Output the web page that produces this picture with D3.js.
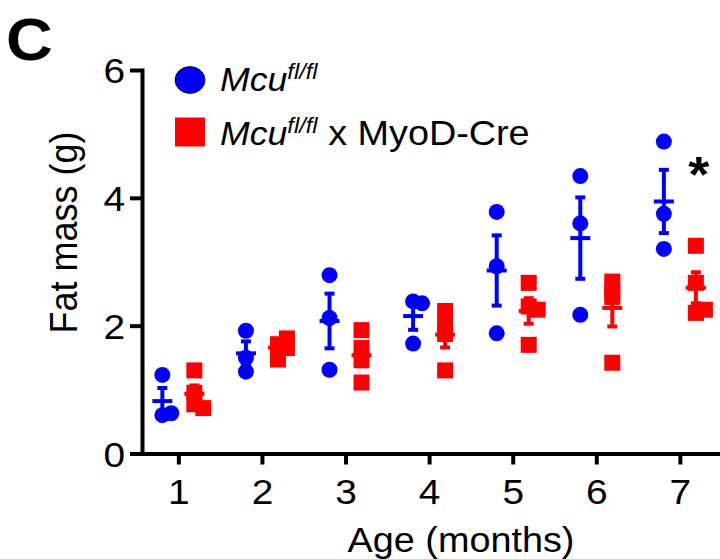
<!DOCTYPE html>
<html>
<head>
<meta charset="utf-8">
<script src="https://cdn.jsdelivr.net/npm/d3@7"></script>
<style>
  body { margin: 0; background: #fff; }
  text { font-family: Arial, "Liberation Sans", sans-serif; fill: #000; }
</style>
</head>
<body>
<svg id="chart" width="720" height="559"></svg>
<script>
// fat mass (g) per mouse, one list per month
const months = [1, 2, 3, 4, 5, 6, 7];
const control = [
  [1.23, 0.60, 0.63],
  [1.92, 1.28, 1.50],
  [2.79, 2.12, 1.31],
  [2.38, 2.35, 1.72],
  [3.78, 2.93, 1.88],
  [4.34, 3.60, 2.17],
  [4.88, 3.75, 3.20],
];
const knockout = [
  [1.30, 0.95, 0.77, 0.71],
  [1.71, 1.80, 1.47, 1.65],
  [1.93, 1.65, 1.46, 1.11],
  [2.23, 2.04, 1.87, 1.30],
  [2.67, 2.30, 2.25, 1.70],
  [2.69, 2.55, 2.45, 1.42],
  [3.25, 2.67, 2.20, 2.25],
];
const yTicks = [0, 2, 4, 6];
const starMonths = [7];

const BLUE = '#0000ff', RED = '#ff0000';
const SX = 1.08; // the figure is a little stretched sideways

const svg = d3.select('#chart');
const x = d3.scaleLinear().domain([0.565, 7.48]).range([142, 720]);
const y = d3.scaleLinear().domain([0, 6]).range([453.5, 70]);
const shift = 16; // px between month tick and group centre

// y axis
const gy = svg.append('g').attr('transform', `translate(${x.range()[0]},0)`)
  .call(d3.axisLeft(y).tickValues(yTicks).tickFormat(d3.format('d')).tickSize(12).tickSizeOuter(0));
gy.select('.domain').attr('stroke-width', 4).attr('stroke-linecap', 'square');
gy.selectAll('.tick line').attr('stroke-width', 4);
gy.selectAll('.tick text')
  .attr('x', -17 / SX).attr('dy', '0.36em')
  .attr('font-size', 36).attr('transform', `scale(${SX},1)`);

// x axis
const gx = svg.append('g').attr('transform', `translate(0,${y(0)})`)
  .call(d3.axisBottom(x).tickValues(months).tickFormat(d3.format('d')).tickSize(11).tickSizeOuter(0));
gx.select('.domain').attr('stroke-width', 4).attr('stroke-linecap', 'square');
gx.selectAll('.tick line').attr('stroke-width', 4);
gx.selectAll('.tick text')
  .attr('x', 0).attr('y', 50.5).attr('dy', 0)
  .attr('font-size', 36).attr('transform', `scale(${SX},1)`);
svg.selectAll('.domain, .tick line').attr('stroke', '#000');

// titles
svg.append('text').attr('transform', `translate(461,551.5) scale(${SX},1)`)
  .attr('text-anchor', 'middle').attr('font-size', 35).text('Age (months)');
svg.append('text').attr('transform', `translate(77,232.5) scale(${SX},1) rotate(-90)`)
  .attr('text-anchor', 'middle').attr('font-size', 36).text('Fat mass (g)');
svg.append('text').attr('transform', `translate(6,60) scale(${SX},1)`)
  .attr('font-size', 60).attr('font-weight', 'bold').text('C');

// spread overlapping points sideways
const dodge = (vals, cx, step = 9, gap = 6)=>{
  const placed = [];
  return vals.map(v=>{
    const py = y(v);
    let k = 0, px;
    do {
      px = cx + Math.ceil(k / 2) * step * (k % 2 ? 1 : -1);
      k++;
    } while (placed.some(p=>Math.hypot(p[0] - px, p[1] - py) < gap));
    placed.push([px, py]);
    return { v, px, py };
  });
};

const drawGroup = (data, dir, color, shape)=>{
  const g = svg.append('g');
  data.forEach((vals, i)=>{
    const cx = x(months[i]) + dir * shift;
    const pts = dodge(vals, cx);
    if (shape === 'circle') {
      g.selectAll(null).data(pts).enter().append('circle')
        .attr('cx', d=>d.px).attr('cy', d=>d.py).attr('r', 8).attr('fill', color);
    } else {
      g.selectAll(null).data(pts).enter().append('rect')
        .attr('x', d=>d.px - 8).attr('y', d=>d.py - 8)
        .attr('width', 16).attr('height', 16).attr('fill', color);
    }
    const m = d3.mean(vals);
    const sem = d3.deviation(vals) / Math.sqrt(vals.length);
    const eb = g.append('g').attr('stroke', color).attr('stroke-width', 4);
    eb.append('line').attr('x1', cx).attr('x2', cx).attr('y1', y(m - sem)).attr('y2', y(m + sem));
    [m - sem, m + sem].forEach(v=>{
      eb.append('line').attr('x1', cx - 5).attr('x2', cx + 5).attr('y1', y(v)).attr('y2', y(v));
    });
    eb.append('line').attr('x1', cx - 10).attr('x2', cx + 10).attr('y1', y(m)).attr('y2', y(m));
  });
};

drawGroup(control, -1, BLUE, 'circle');
drawGroup(knockout, 1, RED, 'square');

// significance
starMonths.forEach(mo=>{
  const vals = control[months.indexOf(mo)];
  const top = d3.mean(vals) + d3.deviation(vals) / Math.sqrt(vals.length);
  svg.append('text')
    .attr('transform', `translate(${x(mo) + shift + 3},${y(top) + 22}) scale(${SX},1)`)
    .attr('text-anchor', 'middle').attr('font-size', 50).attr('font-weight', 'bold').text('*');
});

// legend
const legend = svg.append('g');
legend.append('ellipse').attr('cx', 190).attr('cy', 80).attr('rx', 15).attr('ry', 13.4)
  .attr('fill', BLUE).attr('stroke', '#000').attr('stroke-width', 0.8);
legend.append('rect').attr('x', 175).attr('y', 117.5).attr('width', 30).attr('height', 29)
  .attr('fill', RED);
const labels = [['', 91], [' x MyoD-Cre', 145]];
labels.forEach(([rest, by])=>{
  const t = legend.append('text').attr('transform', `translate(220,${by}) scale(${SX},1)`)
    .attr('font-size', 33);
  t.append('tspan').attr('font-style', 'italic').text('Mcu');
  t.append('tspan').attr('font-style', 'italic').attr('font-size', 22).attr('dy', -12).text('fl/fl');
  if (rest) t.append('tspan').attr('dy', 12).attr('font-size', 35).text(rest);
});
</script>
</body>
</html>
